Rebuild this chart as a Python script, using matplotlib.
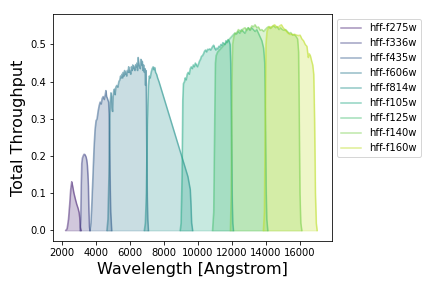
# HFF filter throughput curves
import numpy as np
import matplotlib
matplotlib.use('Agg')
import matplotlib.pyplot as plt

names = ['hff-f275w', 'hff-f336w', 'hff-f435w', 'hff-f606w', 'hff-f814w',
         'hff-f105w', 'hff-f125w', 'hff-f140w', 'hff-f160w']

f275w_wl = [2220, 2300, 2380, 2450, 2510, 2570, 2620, 2700, 2780, 2860, 2940, 3000, 3040, 3080, 3120]
f275w_tp = [0, 0.005, 0.03, 0.07, 0.11, 0.131, 0.12, 0.1, 0.085, 0.071, 0.06, 0.049, 0.035, 0.008, 0]

f336w_wl = [3060, 3100, 3130, 3160, 3200, 3260, 3300, 3350, 3410, 3450, 3490, 3520, 3550, 3580, 3610, 3640]
f336w_tp = [0, 0.03, 0.12, 0.18, 0.195, 0.202, 0.205, 0.204, 0.198, 0.19, 0.175, 0.15, 0.12, 0.05, 0.01, 0]

f435w_wl = [3640, 3700, 3760, 3820, 3880, 3940, 4000, 4060, 4120, 4180, 4240, 4300, 4360, 4420,
            4480, 4540, 4580, 4620, 4660, 4700, 4740, 4780, 4820, 4860, 4920]
f435w_tp = [0, 0.02, 0.08, 0.15, 0.22, 0.27, 0.295, 0.3, 0.32, 0.335, 0.345, 0.34, 0.355, 0.36,
            0.352, 0.365, 0.376, 0.36, 0.356, 0.35, 0.345, 0.3, 0.15, 0.05, 0]

f606w_wl = [4640, 4700, 4760, 4800, 4840, 4880, 4910, 4940, 4970, 5000, 5040, 5080, 5120, 5160,
            5220, 5280, 5340, 5400, 5440, 5480, 5520, 5560, 5600, 5640, 5680, 5720, 5760, 5800,
            5840, 5880, 5920, 5960, 6000, 6040, 6080, 6120, 6160, 6200, 6240, 6280, 6320, 6360,
            6400, 6440, 6480, 6520, 6560, 6600, 6640, 6680, 6720, 6760, 6800, 6840, 6880, 6910,
            6940, 6970, 7000, 7040, 7080]
f606w_tp = [0, 0.03, 0.15, 0.3, 0.35, 0.37, 0.36, 0.33, 0.32, 0.36, 0.375, 0.38, 0.365, 0.385,
            0.39, 0.385, 0.4, 0.405, 0.415, 0.41, 0.42, 0.41, 0.425, 0.415, 0.43, 0.42, 0.425, 0.415,
            0.43, 0.425, 0.44, 0.425, 0.43, 0.42, 0.44, 0.43, 0.445, 0.435, 0.44, 0.43, 0.445, 0.44,
            0.45, 0.43, 0.465, 0.445, 0.44, 0.435, 0.46, 0.445, 0.455, 0.43, 0.445, 0.425, 0.435, 0.39,
            0.43, 0.3, 0.12, 0.03, 0]

f814w_wl = [6840, 6900, 6960, 7020, 7080, 7130, 7180, 7240, 7300, 7360, 7400, 7450, 7500, 7560,
            7620, 7700, 7800, 7900, 8000, 8100, 8200, 8300, 8400, 8500, 8600, 8700, 8800, 8900,
            9000, 9100, 9200, 9300, 9400, 9480, 9540, 9580, 9620, 9680]
f814w_tp = [0, 0.02, 0.1, 0.3, 0.39, 0.415, 0.41, 0.425, 0.435, 0.44, 0.432, 0.438, 0.425, 0.42,
            0.41, 0.4, 0.385, 0.37, 0.355, 0.34, 0.325, 0.31, 0.295, 0.28, 0.265, 0.25, 0.235, 0.22,
            0.205, 0.19, 0.175, 0.16, 0.145, 0.125, 0.11, 0.07, 0.02, 0]

f105w_wl = [8950, 9000, 9060, 9100, 9140, 9200, 9240, 9300, 9360, 9420, 9480, 9540, 9600, 9660,
            9720, 9780, 9840, 9900, 9960, 10020, 10080, 10140, 10200, 10260, 10320, 10380, 10440,
            10500, 10560, 10620, 10680, 10740, 10800, 10860, 10920, 10980, 11040, 11100, 11160,
            11220, 11280, 11340, 11400, 11460, 11520, 11580, 11640, 11700, 11760, 11820, 11880,
            11920, 11960, 12000, 12040, 12080]
f105w_tp = [0, 0.02, 0.15, 0.35, 0.395, 0.4, 0.41, 0.405, 0.42, 0.425, 0.42, 0.435, 0.44, 0.435,
            0.445, 0.44, 0.45, 0.445, 0.44, 0.447, 0.455, 0.46, 0.468, 0.47, 0.475, 0.482, 0.485,
            0.48, 0.487, 0.486, 0.488, 0.485, 0.49, 0.495, 0.498, 0.49, 0.485, 0.49, 0.488,
            0.495, 0.493, 0.5, 0.497, 0.505, 0.502, 0.5, 0.51, 0.505, 0.513, 0.51, 0.5,
            0.45, 0.3, 0.1, 0.02, 0]

f125w_wl = [10850, 10920, 10980, 11020, 11060, 11150, 11250, 11350, 11450, 11550, 11650, 11750,
            11850, 11950, 12050, 12150, 12250, 12350, 12450, 12550, 12650, 12750, 12850, 12950,
            13050, 13150, 13250, 13350, 13450, 13550, 13650, 13750, 13850, 13920, 13960, 14000,
            14040, 14100]
f125w_tp = [0, 0.05, 0.3, 0.45, 0.47, 0.48, 0.485, 0.49, 0.495, 0.5, 0.505, 0.51,
            0.515, 0.52, 0.525, 0.53, 0.528, 0.535, 0.53, 0.54, 0.535, 0.53, 0.54, 0.545,
            0.538, 0.545, 0.54, 0.535, 0.54, 0.53, 0.52, 0.51, 0.49, 0.45, 0.3, 0.12,
            0.03, 0]

f140w_wl = [11900, 11950, 11990, 12030, 12100, 12180, 12260, 12370, 12450, 12550, 12650, 12760,
            12860, 12960, 13060, 13160, 13260, 13350, 13450, 13550, 13650, 13750, 13850, 13950,
            14050, 14150, 14250, 14350, 14450, 14550, 14650, 14750, 14850, 14950, 15050, 15150,
            15250, 15350, 15450, 15550, 15650, 15750, 15850, 15910, 15950, 15990, 16040, 16100]
f140w_tp = [0, 0.1, 0.4, 0.5, 0.52, 0.531, 0.53, 0.54, 0.537, 0.535, 0.542, 0.545,
            0.538, 0.545, 0.54, 0.55, 0.548, 0.553, 0.545, 0.547, 0.538, 0.54, 0.535, 0.54,
            0.545, 0.548, 0.543, 0.548, 0.55, 0.545, 0.548, 0.54, 0.545, 0.54, 0.538, 0.54,
            0.535, 0.53, 0.532, 0.525, 0.527, 0.522, 0.515, 0.48, 0.3, 0.1, 0.02, 0]

f160w_wl = [13840, 13900, 13950, 13990, 14050, 14135, 14220, 14300, 14400, 14500, 14600, 14700,
            14800, 14900, 15000, 15100, 15200, 15300, 15400, 15500, 15600, 15700, 15800, 15900,
            16000, 16100, 16200, 16300, 16400, 16480, 16540, 16600, 16680, 16740, 16800, 16850,
            16900, 16950, 17000]
f160w_tp = [0, 0.05, 0.3, 0.5, 0.535, 0.545, 0.548, 0.545, 0.55, 0.553, 0.548, 0.546,
            0.55, 0.553, 0.545, 0.54, 0.535, 0.53, 0.527, 0.528, 0.526, 0.527, 0.525, 0.524,
            0.525, 0.515, 0.51, 0.5, 0.495, 0.465, 0.475, 0.47, 0.455, 0.445, 0.42, 0.3,
            0.1, 0.02, 0]

wavelengths = [f275w_wl, f336w_wl, f435w_wl, f606w_wl, f814w_wl,
               f105w_wl, f125w_wl, f140w_wl, f160w_wl]
throughputs = [f275w_tp, f336w_tp, f435w_tp, f606w_tp, f814w_tp,
               f105w_tp, f125w_tp, f140w_tp, f160w_tp]

colors = plt.cm.viridis(np.linspace(0.1, 0.9, len(names)))

fig = plt.figure(figsize=(6, 4), dpi=72)
ax = fig.add_axes([0.1234, 0.164, 0.646, 0.786])

for wl, tp, c, name in zip(wavelengths, throughputs, colors, names):
    ax.plot(wl, tp, color=c, alpha=0.5, label=name)
    ax.fill_between(wl, tp, color=c, alpha=0.25)

ax.set_xlim(1490, 17900)
ax.set_xticks(np.arange(2000, 17000, 2000))
ax.set_xlabel('Wavelength [Angstrom]', fontsize=16)
ax.set_ylabel('Total Throughput', fontsize=16)
ax.legend(loc='upper left', bbox_to_anchor=(1, 1))
fig.savefig('out.png', dpi=72)
